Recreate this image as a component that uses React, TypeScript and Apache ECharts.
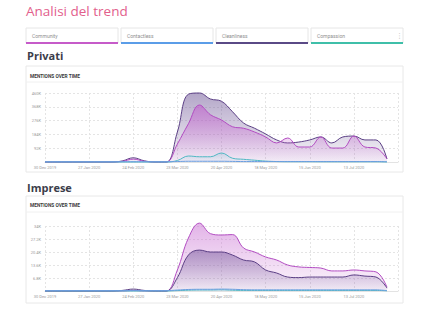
import React, { useEffect, useRef } from "react";
import * as echarts from "echarts";

const categories = [
  "30 Dec 2019", "6 Jan 2020", "13 Jan 2020", "20 Jan 2020", "27 Jan 2020", "3 Feb 2020", "10 Feb 2020",
  "17 Feb 2020", "24 Feb 2020", "2 Mar 2020", "9 Mar 2020", "16 Mar 2020", "23 Mar 2020", "30 Mar 2020",
  "6 Apr 2020", "13 Apr 2020", "20 Apr 2020", "27 Apr 2020", "4 May 2020", "11 May 2020", "18 May 2020",
  "25 May 2020", "1 Jun 2020", "8 Jun 2020", "15 Jun 2020", "22 Jun 2020", "29 Jun 2020", "6 Jul 2020",
  "13 Jul 2020", "20 Jul 2020", "27 Jul 2020", "3 Aug 2020", "10 Aug 2020",
];

const tabs = ["Community", "Contactless", "Cleanliness", "Compassion"];
const tabColors = ["#c65bc9", "#5b9de8", "#5a4a86", "#3fbfa9"];

const privatiTicks = ["", "92K", "184K", "276K", "368K", "460K"];
const impreseTicks = ["", "6.8K", "13.6K", "20.4K", "27.2K", "34K"];

// Privati (values in mentions)
const privatiCommunity = [0, 0, 0, 0, 0, 0, 0, 4000, 19000, 5000, 0, 0, 120000, 255000, 380000, 315000, 280000, 235000, 225000, 200000, 167000, 127000, 160000, 100000, 100000, 167000, 93000, 93000, 173000, 100000, 93000, 20000, null];
const privatiCleanliness = [0, 0, 0, 0, 0, 0, 0, 7000, 28000, 8000, 0, 0, 200000, 452000, 460000, 420000, 405000, 335000, 260000, 225000, 187000, 147000, 127000, 133000, 147000, 167000, 127000, 167000, 173000, 147000, 147000, 20000, null];
const privatiCompassion = [0, 0, 0, 0, 0, 0, 0, 0, 0, 0, 0, 0, 10000, 40000, 35000, 35000, 60000, 25000, 18000, 12000, 6000, 3000, 2000, 2000, 2000, 1500, 1500, 1500, 1500, 1500, 1500, 0, null];
const privatiContactless = [2000, 2000, 2000, 2000, 2000, 2000, 2000, 2000, 2000, 2000, 2000, 2000, 3000, 5000, 5000, 5000, 5000, 4000, 3000, 3000, 3000, 3000, 3000, 3000, 3000, 3000, 3000, 3000, 3000, 3000, 3000, 2000, null];

// Imprese
const impreseCommunity = [0, 0, 0, 0, 0, 0, 0, 0, 300, 0, 0, 0, 11000, 27700, 35500, 30000, 29300, 29500, 22500, 20400, 17800, 16200, 13600, 12600, 12300, 12000, 10500, 10500, 11000, 10500, 10000, 2000, null];
const impreseCleanliness = [0, 0, 0, 0, 0, 0, 0, 300, 1000, 300, 0, 0, 7000, 18800, 21400, 20400, 20400, 18800, 16200, 15200, 11000, 9400, 7300, 7000, 7300, 7300, 7300, 7300, 8400, 7800, 7300, 1500, null];
const impreseCompassion = [0, 0, 0, 0, 0, 0, 0, 0, 0, 0, 0, 0, 200, 400, 500, 500, 600, 400, 300, 300, 300, 300, 300, 300, 300, 300, 300, 300, 300, 300, 300, 100, null];
const impreseContactless = [200, 200, 200, 200, 200, 200, 200, 200, 200, 200, 200, 200, 500, 800, 900, 900, 1000, 900, 700, 600, 600, 600, 600, 600, 600, 600, 600, 600, 600, 600, 600, 200, null];

function grad(r: number, g: number, b: number, a1: number, a2: number) {
  return new echarts.graphic.LinearGradient(0, 0, 0, 1, [
    { offset: 0, color: `rgba(${r},${g},${b},${a1})` },
    { offset: 1, color: `rgba(${r},${g},${b},${a2})` },
  ]);
}

function lineSeries(name: string, data: (number | null)[], idx: number, color: string, area: any, z: number) {
  return {
    name,
    type: "line",
    xAxisIndex: idx,
    yAxisIndex: idx,
    data,
    smooth: 0.4,
    symbol: "none",
    clip: false,
    z,
    lineStyle: { width: 1, color },
    areaStyle: area ? { color: area } : undefined,
  };
}

function xAxis(idx: number) {
  return {
    type: "category",
    gridIndex: idx,
    data: categories,
    boundaryGap: false,
    axisLine: { lineStyle: { color: "#e3e3e3" } },
    axisTick: { show: false },
    axisLabel: {
      interval: 3,
      fontSize: 4,
      color: "#9a9a9a",
      margin: 3,
      fontFamily: "Roboto",
      showMaxLabel: false,
      formatter: (v: string, i: number) => (i >= categories.length - 1 ? "" : v),
    },
    splitLine: { show: true, interval: 3, lineStyle: { type: [2, 2], color: "#e4e4e4", width: 1 } },
  };
}

function yAxis(idx: number, max: number, interval: number, ticks: string[]) {
  return {
    type: "value",
    gridIndex: idx,
    min: 0,
    max,
    interval,
    axisLine: { show: false },
    axisTick: { show: false },
    axisLabel: {
      fontSize: 4,
      color: "#9a9a9a",
      margin: 4,
      fontFamily: "Roboto",
      formatter: (_v: number, i: number) => ticks[i] ?? "",
    },
    splitLine: { show: true, lineStyle: { type: [2, 2], color: "#e4e4e4", width: 1 } },
  };
}

export default function App() {
  const ref = useRef<HTMLDivElement>(null);
  useEffect(() => {
    if (!ref.current) return;
    const chart = echarts.init(ref.current, undefined, { renderer: "svg" });
    const graphics: any[] = [];
    graphics.push({
      type: "text",
      left: 26,
      top: 4,
      style: { text: "Analisi del trend", fontSize: 13.5, fill: "#e2608c", fontFamily: "Open Sans", fontWeight: 500 },
    });
    const tabX = [26, 121, 216, 311];
    tabs.forEach((t, i) => {
      graphics.push({
        type: "rect",
        shape: { x: tabX[i], y: 28, width: 92, height: 15 },
        style: { fill: "#fff", stroke: "#e6e6e6", lineWidth: 1 },
      });
      graphics.push({
        type: "rect",
        shape: { x: tabX[i], y: 42, width: 92, height: 2 },
        style: { fill: tabColors[i] },
      });
      graphics.push({
        type: "text",
        x: tabX[i] + 6,
        y: 36,
        style: { text: t, fontSize: 5, fill: "#8f8f8f", fontFamily: "Roboto", verticalAlign: "middle" },
      });
    });
    graphics.push({
      type: "text",
      x: 396,
      y: 36,
      style: { text: "⋮", fontSize: 7, fill: "#b5b5b5", fontFamily: "DejaVu Sans", verticalAlign: "middle" },
    });
    const headings = [
      { text: "Privati", y: 55 },
      { text: "Imprese", y: 187 },
    ];
    headings.forEach((h) => {
      graphics.push({
        type: "text",
        x: 27,
        y: h.y,
        style: { text: h.text, fontSize: 11, fontWeight: "bold", fill: "#3b3d4a", fontFamily: "Open Sans", verticalAlign: "middle" },
      });
    });
    const cards = [
      { y: 66, h: 106, titleY: 76, sepY: 82 },
      { y: 196, h: 107, titleY: 205, sepY: 212 },
    ];
    cards.forEach((c) => {
      graphics.push({
        type: "rect",
        z: -10,
        shape: { x: 26, y: c.y, width: 377, height: c.h },
        style: { fill: "#fff", stroke: "#e8e8e8", lineWidth: 1 },
      });
      graphics.push({
        type: "line",
        z: -9,
        shape: { x1: 26, y1: c.sepY, x2: 403, y2: c.sepY },
        style: { stroke: "#f0f0f0", lineWidth: 1 },
      });
      graphics.push({
        type: "text",
        x: 30,
        y: c.titleY,
        style: { text: "MENTIONS OVER TIME", fontSize: 4.8, fontWeight: "bold", fill: "#3a3a3a", fontFamily: "Roboto", verticalAlign: "middle" },
      });
    });

    chart.setOption({
      animation: false,
      backgroundColor: "#ffffff",
      graphic: graphics,
      grid: [
        { left: 45, top: 93, width: 353, height: 69 },
        { left: 45, top: 226, width: 353, height: 65 },
      ],
      xAxis: [xAxis(0), xAxis(1)],
      yAxis: [yAxis(0, 460000, 92000, privatiTicks), yAxis(1, 34000, 6800, impreseTicks)],
      series: [
        lineSeries("Cleanliness", privatiCleanliness, 0, "#5b3f85", grad(110, 85, 150, 0.75, 0.08), 2),
        lineSeries("Community", privatiCommunity, 0, "#b24cc2", grad(195, 90, 205, 0.8, 0.08), 3),
        lineSeries("Compassion", privatiCompassion, 0, "#4fb8c4", grad(90, 190, 200, 0.3, 0.05), 4),
        lineSeries("Contactless", privatiContactless, 0, "#6a9ee0", null, 5),
        lineSeries("Community", impreseCommunity, 1, "#b24cc2", grad(200, 110, 210, 0.75, 0.08), 2),
        lineSeries("Cleanliness", impreseCleanliness, 1, "#5b3f85", grad(110, 80, 150, 0.7, 0.1), 3),
        lineSeries("Compassion", impreseCompassion, 1, "#4fb8c4", null, 4),
        lineSeries("Contactless", impreseContactless, 1, "#6a9ee0", null, 5),
      ],
    });
    return () => chart.dispose();
  }, []);
  return <div ref={ref} style={{ position: "absolute", left: 0, top: 0, width: 432, height: 330 }} />;
}
